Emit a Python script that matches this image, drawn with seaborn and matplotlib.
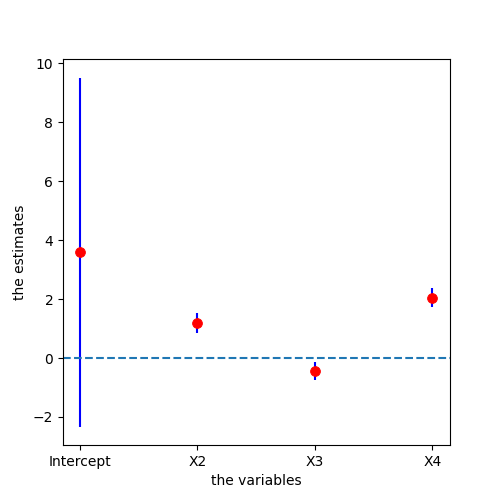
import matplotlib
matplotlib.use("Agg")
import matplotlib.pyplot as plt
import seaborn as sns
import pandas as pd

variables = ["Intercept", "X2", "X3", "X4"]
estimates = [3.59, 1.19, -0.44, 2.03]
lower = [-2.34, 0.85, -0.75, 1.73]
upper = [9.49, 1.53, -0.14, 2.37]

df = pd.DataFrame({"var": variables, "est": estimates, "lo": lower, "hi": upper})
df["x"] = range(len(df))

fig, ax = plt.subplots(figsize=(5, 5), dpi=100)
fig.subplots_adjust(left=0.126, right=0.9, bottom=0.11, top=0.882)
ax.vlines(df["x"], df["lo"], df["hi"], color="blue", linewidth=1.5, zorder=2)
sns.scatterplot(data=df, x="x", y="est", color="red", s=50, edgecolor="red", ax=ax, zorder=3)
ax.axhline(0, linestyle="--", color="#1f77b4", linewidth=1.5)
ax.set_xticks(df["x"])
ax.set_xticklabels(variables)
ax.set_xlim(-0.145, 3.15)
ax.set_ylim(-2.95, 10.14)
ax.set_xlabel("the variables")
ax.set_ylabel("the estimates")
fig.savefig("out.png")
